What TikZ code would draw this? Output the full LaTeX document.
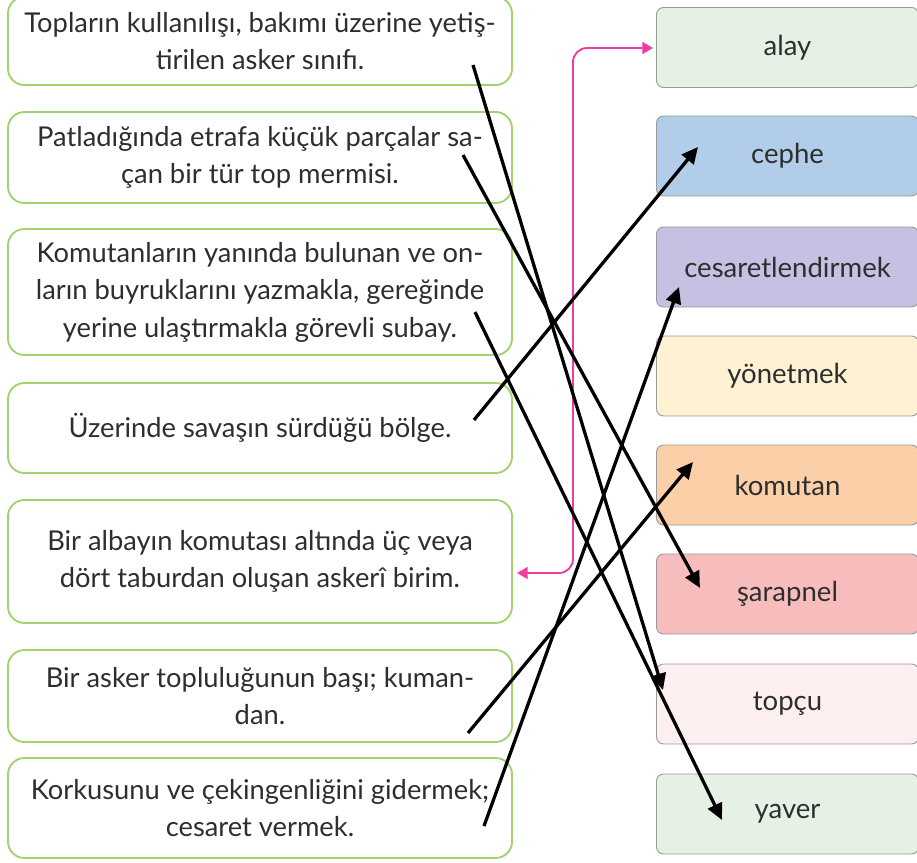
\documentclass[tikz,border=0pt]{standalone}
\usepackage{fontspec}
\setmainfont{Lato}
\usetikzlibrary{arrows.meta,positioning}
\definecolor{leafgreen}{HTML}{A3D36F}
\definecolor{boxgray}{HTML}{9A9A9A}
\definecolor{inkgray}{HTML}{2E2E2E}
\definecolor{hintpink}{HTML}{F03CA0}
\definecolor{mintfill}{HTML}{E5F1E4}
\definecolor{skyfill}{HTML}{B1CDEA}
\definecolor{lilacfill}{HTML}{C4C1E2}
\definecolor{creamfill}{HTML}{FFF1D3}
\definecolor{peachfill}{HTML}{FBD0A9}
\definecolor{rosefill}{HTML}{F7BDBD}
\definecolor{blushfill}{HTML}{FDEFF0}
\tikzset{
  defbox/.style={draw=leafgreen, line width=1.6pt, rounded corners=14pt, fill=white,
    minimum width=15.12cm, align=center, text=inkgray, inner sep=0pt,
    font=\fontsize{23.3}{32}\selectfont},
  wordbox/.style={draw=boxgray, line width=0.8pt, rounded corners=6pt,
    minimum width=7.86cm, minimum height=2.4cm, text=inkgray, inner sep=0pt,
    font=\fontsize{23.5}{32}\selectfont},
  match/.style={-{Triangle[length=14pt,width=13pt]}, line width=2.8pt, black},
  hint/.style={{Triangle[length=9pt,width=10pt]}-{Triangle[length=9pt,width=10pt]},
    line width=1.6pt, hintpink, rounded corners=12pt}
}
\begin{document}
\begin{tikzpicture}[x=0.03cm, y=-0.03cm]
\useasboundingbox (0,0) rectangle (917,863);

% left column: definitions
\node[defbox, minimum height=2.64cm] (topcuDef) at (260,41)
  {Topların kullanılışı, bakımı üzerine yetiş-\\tirilen asker sınıfı.};
\node[defbox, minimum height=2.73cm] (sarapnelDef) at (260,157.5)
  {Patladığında etrafa küçük parçalar sa-\\çan bir tür top mermisi.};
\node[defbox, minimum height=3.78cm] (yaverDef) at (260,292)
  {Komutanların yanında bulunan ve on-\\ların buyruklarını yazmakla, gereğinde\\yerine ulaştırmakla görevli subay.};
\node[defbox, minimum height=2.7cm] (cepheDef) at (260,428)
  {Üzerinde savaşın sürdüğü bölge.};
\node[defbox, minimum height=3.69cm] (alayDef) at (260,561.5)
  {Bir albayın komutası altında üç veya\\dört taburdan oluşan askerî birim.};
\node[defbox, minimum height=2.76cm] (komutanDef) at (260,696)
  {Bir asker topluluğunun başı; kuman-\\dan.};
\node[defbox, minimum height=3.0cm] (cesaretDef) at (260,808)
  {Korkusunu ve çekingenliğini gidermek;\\cesaret vermek.};

% right column: words
\node[wordbox, fill=mintfill] (alay) at (787.5,47.5) {alay};
\node[wordbox, fill=skyfill] (cephe) at (787.5,156) {cephe};
\node[wordbox, fill=lilacfill] (cesaret) at (787.5,267) {cesaretlendirmek};
\node[wordbox, fill=creamfill] (yonetmek) at (787.5,376) {yönetmek};
\node[wordbox, fill=peachfill] (komutan) at (787.5,485) {komutan};
\node[wordbox, fill=rosefill] (sarapnel) at (787.5,594) {şarapnel};
\node[wordbox, fill=blushfill] (topcu) at (787.5,704) {topçu};
\node[wordbox, fill=mintfill] (yaver) at (787.5,814) {yaver};

% line ends
\coordinate (s1) at (473,65);
\coordinate (s2) at (463,155);
\coordinate (s3) at (475,312);
\coordinate (s4) at (474,420);
\coordinate (s6) at (468,733);
\coordinate (s7) at (484,826);
\coordinate (t1) at (663,690);
\coordinate (t2) at (700,588);
\coordinate (t3) at (722,820);
\coordinate (t4) at (698,147);
\coordinate (t6) at (693,462);
\coordinate (t7) at (679,287);
\coordinate (pl) at (517,573);
\coordinate (pr) at (653,48);
\coordinate (rail) at (573,0);

% pink example
\draw[hint] (pl) -- (pl -| rail) -- (pr -| rail) -- (pr);

% answers
\draw[match] (s1) -- (t1);
\draw[match] (s2) -- (t2);
\draw[match] (s3) -- (t3);
\draw[match] (s4) -- (t4);
\draw[match] (s6) -- (t6);
\draw[match] (s7) -- (t7);
\end{tikzpicture}
\end{document}
